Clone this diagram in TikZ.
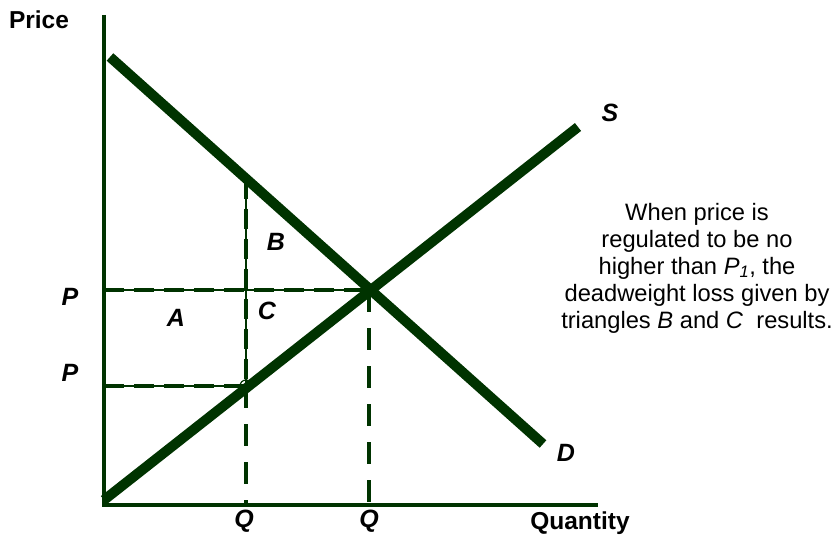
\documentclass[tikz,border=0pt]{standalone}
\usepackage{fontspec}
\setmainfont{Liberation Sans}
\definecolor{dkgreen}{HTML}{003300}
\begin{document}
\begin{tikzpicture}[x=1pt,y=-1pt,
  axis/.style={draw=dkgreen,line width=4pt},
  curve/.style={draw=dkgreen,line width=10pt},
  thinline/.style={draw=dkgreen,line width=1.2pt},
  dashline/.style={draw=dkgreen,line width=4pt,dash pattern=on 20pt off 10pt},
  lowdash/.style={draw=dkgreen,line width=4pt,dash pattern=on 22pt off 16pt},
  lbl/.style={font=\fontsize{25}{27}\selectfont\bfseries\itshape,inner sep=0pt},
  axlbl/.style={font=\fontsize{24.5}{26}\selectfont\bfseries,inner sep=0pt},
  note/.style={font=\fontsize{23.7}{27}\selectfont,align=center,inner sep=0pt},
  dot/.style={draw=dkgreen,line width=1.2pt,fill=none}]
\useasboundingbox (0,0) rectangle (835,540);
\coordinate (O) at (104,505);
\coordinate (ytop) at (104,15);
\coordinate (xend) at (598,505);
\coordinate (D1) at (110,57);
\coordinate (D2) at (543,444);
\coordinate (S1) at (104,500);
\coordinate (S2) at (578,127);
\coordinate (E) at (369,290);
\coordinate (Ps) at (246,386);
\coordinate (Dq) at (246,179);
\coordinate (P1y) at (104,290);
\coordinate (P2y) at (104,386);
\coordinate (Q1x) at (246,505);
\coordinate (Q2x) at (369,505);
% dashed guides
\draw[thinline] (P1y) -- (E);
\draw[thinline] (P2y) -- (Ps);
\draw[thinline] (Dq) -- (Ps);
\draw[dashline] (P1y) -- (E);
\draw[dashline] (P2y) -- (Ps);
\draw[dashline] (Dq) -- (Ps);
\draw[lowdash] (Ps) -- (Q1x);
\draw[lowdash] (E) -- (Q2x);
% axes
\draw[axis] (ytop) -- (O) -- (xend);
% curves
\draw[curve] (D1) -- (D2);
\draw[curve] (S1) -- (S2);
% small circles
\draw[dot] (Ps) circle (6pt);
\draw[dot] (E) circle (6pt);
% labels
\node[axlbl] (price) at (39,20) {Price};
\node[axlbl] (qty) at (580,523) {Quantity};
\node[lbl] (P1) at (70,297) {P};
\node[lbl] (P2) at (70,373) {P};
\node[lbl] (A) at (176,318) {A};
\node[lbl] (C) at (267,311) {C};
\node[lbl] (B) at (276,242) {B};
\node[lbl] (Q1) at (244,521) {Q};
\node[lbl] (Q2) at (369,521) {Q};
\node[lbl] (S) at (610,113) {S};
\node[lbl] (D) at (566,453) {D};
\node[note] (txt) at (697,268) {When price is\\regulated to be no\\higher than \textit{P\textsubscript{1}}, the\\deadweight loss given by\\triangles \textit{B} and \textit{C}\ \ results.};
\end{tikzpicture}
\end{document}
